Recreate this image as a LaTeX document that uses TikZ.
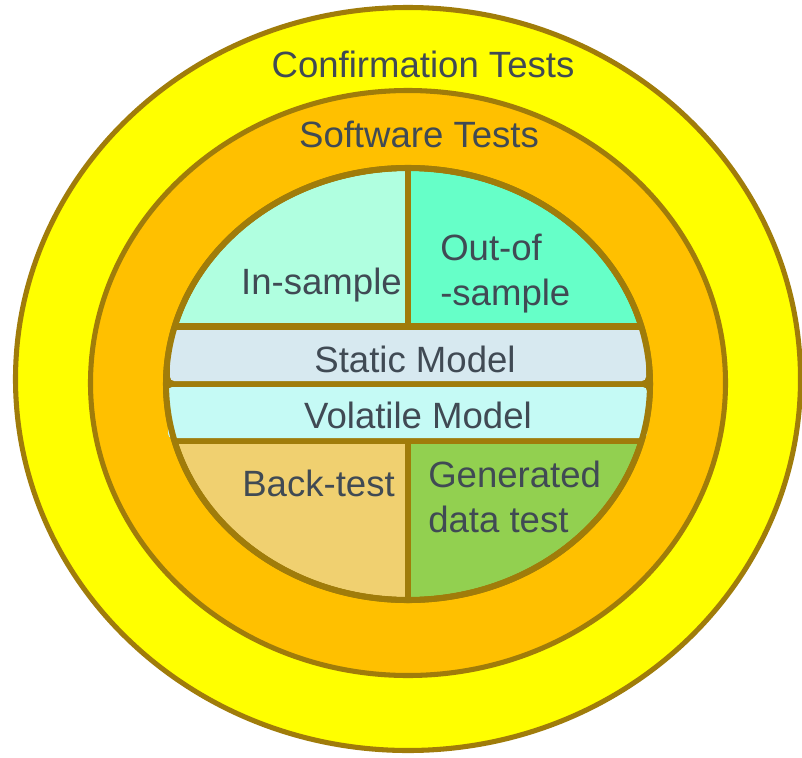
\documentclass[tikz,border=0pt]{standalone}
\usepackage{fontspec}
\setmainfont{Liberation Sans}
\usetikzlibrary{positioning}

\definecolor{rimgold}{HTML}{A07C0A}
\definecolor{ringyellow}{HTML}{FFFF00}
\definecolor{ringorange}{HTML}{FFC000}
\definecolor{insamp}{HTML}{B0FFE0}
\definecolor{outsamp}{HTML}{66FFC8}
\definecolor{staticband}{HTML}{D7E9F0}
\definecolor{volband}{HTML}{C5FAF5}
\definecolor{backtest}{HTML}{F0D070}
\definecolor{gentest}{HTML}{92D050}
\definecolor{txtgray}{HTML}{404A54}

\begin{document}
\begin{tikzpicture}[
    x=0.025cm, y=-0.025cm,
    rim/.style={draw=rimgold, line width=3.6pt},
    lbl/.style={text=txtgray, font=\fontsize{26}{32}\selectfont, inner sep=0pt},
    band/.style={rounded corners=3pt}
]
\useasboundingbox (0,0) rectangle (802,757);

% rings
\draw[rim, fill=ringyellow] (408,379) ellipse [x radius=392.5, y radius=371.5];
\draw[rim, fill=ringorange] (408,383) ellipse [x radius=317.5, y radius=292.5];

% inner pie
\fill[rimgold] (408,384) ellipse [x radius=245, y radius=219];
\begin{scope}
  \clip (408,384) ellipse [x radius=239, y radius=213];
  \fill[insamp] (0,0) rectangle (405,323);
  \fill[outsamp] (411,0) rectangle (802,323);
  \fill[backtest] (0,444) rectangle (405,757);
  \fill[gentest] (411,444) rectangle (802,757);
\end{scope}
\fill[band, staticband] (170,330) rectangle (646,381);
\fill[band, volband] (168,387) rectangle (647,438);
\draw[rim, line width=4.3pt] (408,384) ellipse [x radius=242, y radius=216];

% labels
\node[lbl, anchor=base] (conf) at (423,77) {Confirmation Tests};
\node[lbl, anchor=base] (soft) at (419,147) {Software Tests};
\node[lbl, anchor=base east] (insample) at (402,294) {In-sample};
\node[lbl, anchor=base west, align=left] (outsample) at (440,305) {Out-of\\-sample};
\node[lbl, anchor=base] (static) at (415,372) {Static Model};
\node[lbl, anchor=base] (volatile) at (418,428) {Volatile Model};
\node[lbl, anchor=base east] (back) at (395,496) {Back-test};
\node[lbl, anchor=base west, align=left] (generated) at (428,532) {Generated\\data test};
\end{tikzpicture}
\end{document}
